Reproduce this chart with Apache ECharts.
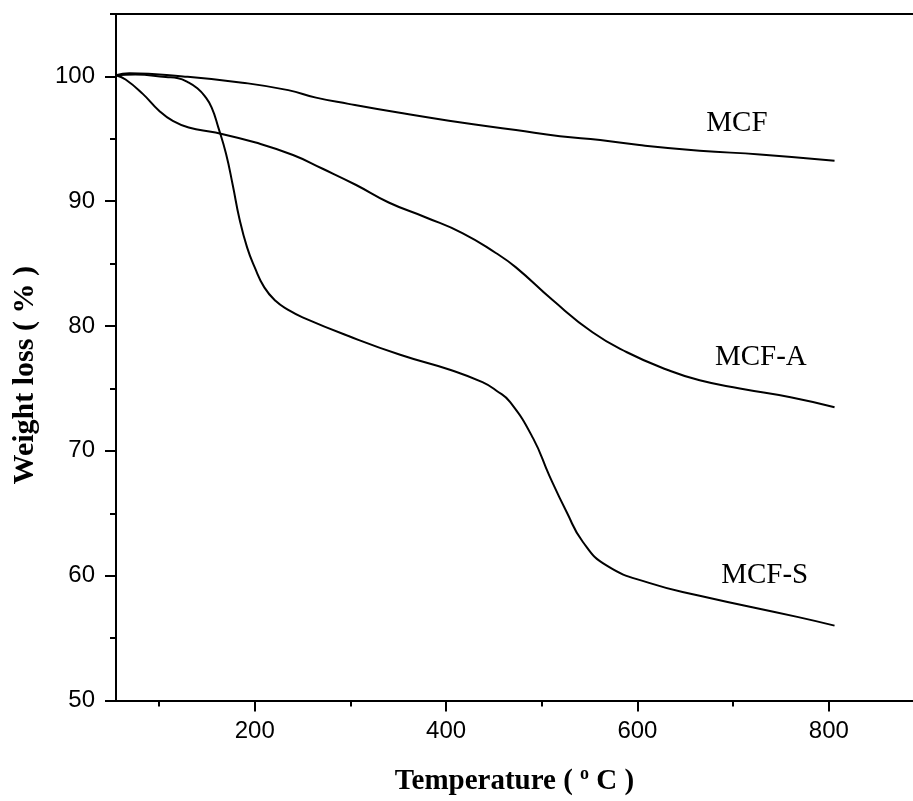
<!DOCTYPE html>
<html>
<head>
<meta charset="utf-8">
<script src="https://cdn.jsdelivr.net/npm/echarts@6/dist/echarts.min.js"></script>
<style>
  html, body { margin: 0; padding: 0; background: #fff; }
  #chart { width: 913px; height: 801px; }
</style>
</head>
<body>
<div id="chart"></div>
<script>
// TGA curves, temperature (°C) vs weight (%)
const mcfT = [55, 69, 125, 187, 235, 264, 298, 350, 403, 473, 519, 561, 602, 665, 728, 806];
const mcfW = [100.1, 100.25, 100.0, 99.5, 98.9, 98.3, 97.8, 97.1, 96.45, 95.7, 95.2, 94.9, 94.5, 94.05, 93.75, 93.25];

const mcfaT = [55, 65, 83, 100, 114, 131, 159, 201, 240, 271, 306, 340, 379, 417, 452, 473, 511, 553, 589, 631, 665, 707, 760, 806];
const mcfaW = [100.1, 99.75, 98.6, 97.25, 96.45, 95.9, 95.5, 94.7, 93.7, 92.6, 91.3, 89.9, 88.7, 87.45, 85.85, 84.7, 82.1, 79.5, 77.9, 76.5, 75.65, 75.0, 74.3, 73.5];

const mcfsT = [55, 75, 107, 120, 130, 140, 148, 155, 162, 170, 177, 184, 192, 200, 210, 222, 235, 250, 298, 352, 404, 438, 453, 467, 491, 508, 526, 543, 568, 613, 665, 767, 806];
const mcfsW = [100.1, 100.15, 99.95, 99.85, 99.55, 99.05, 98.4, 97.5, 95.9, 93.8, 91.3, 88.6, 86.3, 84.7, 83.1, 82.0, 81.3, 80.7, 79.2, 77.7, 76.5, 75.5, 74.8, 73.9, 71.0, 68.0, 65.1, 62.7, 60.8, 59.4, 58.4, 56.7, 56.0];

const xMajor = [200, 400, 600, 800];
const xMinor = [100, 300, 500, 700];
const yMajor = [50, 60, 70, 80, 90, 100];
const yMinor = [55, 65, 75, 85, 95, 105];

// label anchors in data space [T, W]
const curveLabels = [
  { name: 'MCF', at: [704, 96.2] },
  { name: 'MCF-A', at: [729, 77.5] },
  { name: 'MCF-S', at: [733, 60.0] }
];

const zip = (xs, ys) => xs.map((x, i) => [x, ys[i]]);

const serif = 'Liberation Serif, Times New Roman, serif';
const sans = 'Liberation Sans, Arial, sans-serif';
const axisLineStyle = { color: '#000', width: 2 };

const makeSeries = (name, data) => ({
  name,
  type: 'line',
  data,
  smooth: 0.5,
  symbol: 'none',
  lineStyle: { color: '#000', width: 2 },
  markPoint: {
    symbol: 'circle',
    symbolSize: 0,
    silent: true,
    label: {
      show: true,
      position: 'inside',
      formatter: name,
      fontFamily: serif,
      fontSize: 29,
      color: '#000'
    },
    data: [{ coord: curveLabels.find(l => l.name === name).at }]
  }
});

const chart = echarts.init(document.getElementById('chart'));
chart.setOption({
  backgroundColor: '#fff',
  animation: false,
  grid: { left: 116, right: 0, top: 14, bottom: 98 },
  xAxis: [
    {
      type: 'value', min: 55, max: 888, position: 'bottom',
      axisLine: { onZero: false, lineStyle: axisLineStyle },
      axisTick: { customValues: xMajor, length: 11, lineStyle: axisLineStyle },
      axisLabel: { customValues: xMajor, fontFamily: sans, fontSize: 24, color: '#000', margin: 19 },
      splitLine: { show: false },
      name: '{t|Temperature ( }{s|o}{t| C )}',
      nameLocation: 'middle',
      nameGap: 65,
      nameTextStyle: {
        rich: {
          t: { fontFamily: serif, fontWeight: 'bold', fontSize: 29, color: '#000', lineHeight: 32, verticalAlign: 'middle' },
          s: { fontFamily: serif, fontWeight: 'bold', fontSize: 18, color: '#000', lineHeight: 16, verticalAlign: 'top' }
        }
      }
    },
    {
      type: 'value', min: 55, max: 888, position: 'bottom',
      axisLine: { show: false, onZero: false },
      axisTick: { customValues: xMinor, length: 6, lineStyle: axisLineStyle },
      axisLabel: { show: false, customValues: xMinor },
      splitLine: { show: false }
    },
    {
      type: 'value', min: 55, max: 888, position: 'top',
      axisLine: { onZero: false, lineStyle: axisLineStyle },
      axisTick: { show: false },
      axisLabel: { show: false },
      splitLine: { show: false }
    }
  ],
  yAxis: [
    {
      type: 'value', min: 50, max: 105, position: 'left',
      axisLine: { show: true, onZero: false, lineStyle: axisLineStyle },
      axisTick: { show: true, customValues: yMajor, length: 11, lineStyle: axisLineStyle },
      axisLabel: { customValues: yMajor, fontFamily: sans, fontSize: 24, color: '#000', margin: 21 },
      splitLine: { show: false },
      name: 'Weight loss ( % )',
      nameLocation: 'middle',
      nameRotate: 90,
      nameGap: 76,
      nameTextStyle: { fontFamily: serif, fontWeight: 'bold', fontSize: 30, color: '#000', padding: [0, 36, 0, 0] }
    },
    {
      type: 'value', min: 50, max: 105, position: 'left',
      axisLine: { show: false, onZero: false },
      axisTick: { show: true, customValues: yMinor, length: 6, lineStyle: axisLineStyle },
      axisLabel: { show: false, customValues: yMinor },
      splitLine: { show: false }
    }
  ],
  series: [
    makeSeries('MCF', zip(mcfT, mcfW)),
    makeSeries('MCF-A', zip(mcfaT, mcfaW)),
    makeSeries('MCF-S', zip(mcfsT, mcfsW))
  ]
});
</script>
</body>
</html>
